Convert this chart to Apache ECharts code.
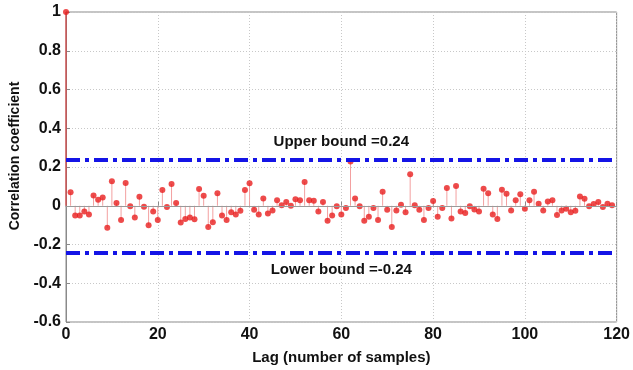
<!DOCTYPE html>
<html><head><meta charset="utf-8">
<script src="https://cdn.jsdelivr.net/npm/echarts@6/dist/echarts.min.js"></script>
<style>html,body{margin:0;padding:0;background:#fff}#c{width:633px;height:370px}</style>
</head><body><div id="c"></div>
<script>
const lags = Array.from({length:120},(_, i)=>i);
const acf = [1.0,
 0.07,-0.05,-0.05,-0.03,-0.045,0.053,0.031,0.043,-0.114,0.126,
 0.014,-0.074,0.117,-0.003,-0.06,0.047,-0.005,-0.10,-0.03,-0.074,
 0.081,-0.007,0.112,0.014,-0.086,-0.069,-0.06,-0.07,0.086,0.052,
 -0.11,-0.085,0.064,-0.05,-0.074,-0.034,-0.045,-0.026,0.081,0.116,
 -0.02,-0.045,0.038,-0.04,-0.024,0.028,0.003,0.019,0,0.034,
 0.029,0.122,0.028,0.026,-0.03,0.019,-0.078,-0.05,-0.003,-0.045,
 -0.012,0.228,0.038,-0.002,-0.078,-0.057,-0.012,-0.074,0.072,-0.02,
 -0.11,-0.024,0.005,-0.034,0.162,0.003,-0.02,-0.074,-0.012,0.024,
 -0.057,-0.012,0.091,-0.066,0.102,-0.03,-0.038,-0.002,-0.019,-0.03,
 0.088,0.064,-0.045,-0.069,0.083,0.062,-0.024,0.028,0.06,-0.016,
 0.028,0.072,0.01,-0.024,0.022,0.029,-0.048,-0.024,-0.016,-0.034,
 -0.026,0.048,0.036,-0.002,0.009,0.019,-0.007,0.01,0.003];
const upperBound = 0.24, lowerBound = -0.24;
const xTicks = [0,20,40,60,80,100,120];
const yTicks = [-0.6,-0.4,-0.2,0,0.2,0.4,0.6,0.8,1];
const upperText = 'Upper bound =0.24', lowerText = 'Lower bound =-0.24';

const pts = lags.map((l,i)=>[l, acf[i]]);
const chart = echarts.init(document.getElementById('c'), null, {renderer:'canvas'});
const font = 'Arial, "Liberation Sans", sans-serif';
chart.setOption({
  animation:false,
  backgroundColor:'#fff',
  grid:{left:64,right:12,top:12,bottom:48,show:true,borderColor:'#8a8a8a',borderWidth:1},
  xAxis:{type:'value',min:0,max:120,interval:20,
    name:'Lag (number of samples)',nameLocation:'middle',nameGap:28,
    nameTextStyle:{fontFamily:font,fontWeight:'bold',fontSize:15,color:'#111'},
    axisLine:{show:true,lineStyle:{color:'#8a8a8a'}},
    axisTick:{show:true,inside:true,length:4,lineStyle:{color:'#8a8a8a'}},
    axisLabel:{fontFamily:font,fontWeight:'bold',fontSize:16,color:'#111',margin:5,
      formatter:v=>xTicks.includes(v)?String(v):''},
    splitLine:{show:true,lineStyle:{color:'#c8c8c8',type:[1,2]}}},
  yAxis:{type:'value',min:-0.6,max:1,interval:0.2,
    name:'Correlation coefficient',nameLocation:'middle',nameGap:44,
    nameTextStyle:{fontFamily:font,fontWeight:'bold',fontSize:14,color:'#111',padding:[0,0,0,22]},
    axisLine:{show:true,lineStyle:{color:'#8a8a8a'}},
    axisTick:{show:true,inside:true,length:4,lineStyle:{color:'#8a8a8a'}},
    axisLabel:{fontFamily:font,fontWeight:'bold',fontSize:16,color:'#111',margin:5,
      formatter:v=>{const r=Math.round(v*10)/10; return yTicks.some(t=>Math.abs(t-r)<1e-9)?String(r):'';}},
    splitLine:{show:true,lineStyle:{color:'#c8c8c8',type:[1,2]}}},
  series:[
    {type:'custom',z:2,data:pts,
     renderItem:(params,api)=>{
       const x=api.value(0), y=api.value(1);
       const p0=api.coord([x,0]), p1=api.coord([x,y]);
       return {type:'line',shape:{x1:p0[0],y1:p0[1],x2:p1[0],y2:p1[1]},
         style:{stroke: x===0?'#e83030':'#f3a0a0',lineWidth:1}};
     },
     markLine:{silent:true,symbol:'none',animation:false,
       data:[
        {yAxis:0,lineStyle:{color:'#9a9a9a',type:'solid',width:1},label:{show:false}},
        {yAxis:upperBound,lineStyle:{color:'#1414e6',type:[14,5,4,5],width:4},
         label:{show:true,position:'insideMiddleTop',formatter:upperText,distance:10,
           fontFamily:font,fontWeight:'bold',fontSize:15,color:'#111'}},
        {yAxis:lowerBound,lineStyle:{color:'#1414e6',type:[14,5,4,5],width:4},
         label:{show:true,position:'insideMiddleBottom',formatter:lowerText,distance:10,
           fontFamily:font,fontWeight:'bold',fontSize:15,color:'#111'}}
       ]}},
    {type:'scatter',z:3,data:pts,symbol:'circle',symbolSize:6,
     itemStyle:{color:'#e81e1e'}}
  ]
});
</script></body></html>
